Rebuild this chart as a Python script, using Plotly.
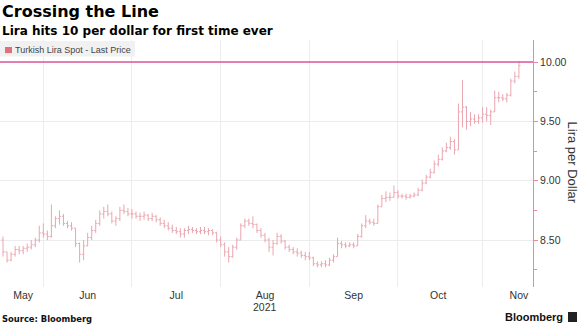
import pandas as pd
import plotly.graph_objects as go

# Daily USD/TRY bars, one per weekday from 18 May to 12 Nov 2021
dates = pd.bdate_range("2021-05-18", "2021-11-12")

open_px = [
    8.50, 8.40, 8.33, 8.38, 8.42, 8.41, 8.43, 8.44, 8.46, 8.50,
    8.56, 8.55, 8.53, 8.62, 8.68, 8.70, 8.64, 8.62, 8.60, 8.47,
    8.38, 8.45, 8.52, 8.58, 8.64, 8.72, 8.74, 8.72, 8.66, 8.68,
    8.75, 8.74, 8.72, 8.72, 8.70, 8.70, 8.71, 8.68, 8.70, 8.67,
    8.64, 8.62, 8.60, 8.58, 8.57, 8.55, 8.58, 8.59, 8.58, 8.57,
    8.58, 8.57, 8.58, 8.56, 8.50, 8.46, 8.40, 8.36, 8.44, 8.50,
    8.62, 8.66, 8.64, 8.63, 8.58, 8.54, 8.50, 8.44, 8.47, 8.53,
    8.49, 8.44, 8.42, 8.40, 8.39, 8.37, 8.36, 8.35, 8.30, 8.29,
    8.30, 8.29, 8.33, 8.36, 8.47, 8.46, 8.45, 8.46, 8.45, 8.53,
    8.62, 8.66, 8.65, 8.64, 8.78, 8.85, 8.86, 8.86, 8.90, 8.87,
    8.87, 8.86, 8.87, 8.88, 8.92, 8.98, 9.03, 9.07, 9.14, 9.18,
    9.25, 9.28, 9.33, 9.26, 9.58, 9.62, 9.50, 9.52, 9.50, 9.53,
    9.56, 9.55, 9.58, 9.70, 9.70, 9.69, 9.72, 9.84, 9.88,
]
high_px = [
    8.53, 8.40, 8.40, 8.45, 8.45, 8.45, 8.47, 8.50, 8.52, 8.62,
    8.64, 8.58, 8.80, 8.70, 8.75, 8.72, 8.66, 8.65, 8.60, 8.48,
    8.50, 8.56, 8.62, 8.67, 8.75, 8.78, 8.80, 8.74, 8.70, 8.78,
    8.80, 8.77, 8.76, 8.74, 8.73, 8.74, 8.72, 8.73, 8.71, 8.69,
    8.67, 8.65, 8.63, 8.61, 8.60, 8.60, 8.62, 8.61, 8.60, 8.61,
    8.61, 8.60, 8.59, 8.57, 8.53, 8.48, 8.44, 8.46, 8.52, 8.64,
    8.68, 8.68, 8.70, 8.64, 8.60, 8.56, 8.52, 8.50, 8.56, 8.55,
    8.50, 8.46, 8.44, 8.43, 8.41, 8.40, 8.40, 8.36, 8.32, 8.32,
    8.33, 8.35, 8.38, 8.52, 8.49, 8.48, 8.48, 8.48, 8.55, 8.64,
    8.71, 8.68, 8.68, 8.80, 8.88, 8.91, 8.90, 8.96, 8.92, 8.89,
    8.89, 8.89, 8.90, 8.94, 9.01, 9.05, 9.10, 9.17, 9.22, 9.28,
    9.32, 9.37, 9.35, 9.65, 9.85, 9.63, 9.58, 9.56, 9.56, 9.62,
    9.62, 9.60, 9.76, 9.75, 9.73, 9.74, 9.86, 9.92, 10.01,
]
low_px = [
    8.36, 8.31, 8.32, 8.36, 8.38, 8.38, 8.40, 8.42, 8.44, 8.48,
    8.52, 8.50, 8.52, 8.60, 8.63, 8.62, 8.60, 8.58, 8.44, 8.31,
    8.33, 8.45, 8.50, 8.56, 8.62, 8.68, 8.70, 8.64, 8.62, 8.66,
    8.72, 8.70, 8.68, 8.68, 8.66, 8.67, 8.66, 8.66, 8.65, 8.62,
    8.60, 8.58, 8.56, 8.55, 8.52, 8.52, 8.55, 8.56, 8.55, 8.55,
    8.55, 8.54, 8.54, 8.48, 8.44, 8.36, 8.31, 8.35, 8.42, 8.50,
    8.60, 8.62, 8.60, 8.56, 8.52, 8.48, 8.40, 8.37, 8.46, 8.47,
    8.42, 8.40, 8.38, 8.36, 8.35, 8.33, 8.33, 8.28, 8.27, 8.27,
    8.27, 8.28, 8.31, 8.36, 8.43, 8.43, 8.44, 8.43, 8.45, 8.52,
    8.60, 8.63, 8.62, 8.64, 8.78, 8.82, 8.83, 8.86, 8.85, 8.85,
    8.84, 8.85, 8.86, 8.87, 8.91, 8.97, 9.02, 9.06, 9.12, 9.17,
    9.24, 9.26, 9.22, 9.26, 9.45, 9.43, 9.46, 9.48, 9.48, 9.49,
    9.50, 9.47, 9.58, 9.66, 9.67, 9.66, 9.71, 9.82, 9.86,
]
close_px = [
    8.40, 8.33, 8.38, 8.42, 8.41, 8.43, 8.44, 8.46, 8.50, 8.56,
    8.55, 8.53, 8.62, 8.68, 8.70, 8.64, 8.62, 8.60, 8.47, 8.38,
    8.45, 8.52, 8.58, 8.64, 8.72, 8.74, 8.72, 8.66, 8.68, 8.75,
    8.74, 8.72, 8.72, 8.70, 8.70, 8.71, 8.68, 8.70, 8.67, 8.64,
    8.62, 8.60, 8.58, 8.57, 8.55, 8.58, 8.59, 8.58, 8.57, 8.58,
    8.57, 8.58, 8.56, 8.50, 8.46, 8.40, 8.36, 8.44, 8.50, 8.62,
    8.66, 8.64, 8.63, 8.58, 8.54, 8.50, 8.44, 8.47, 8.53, 8.49,
    8.44, 8.42, 8.40, 8.39, 8.37, 8.36, 8.35, 8.30, 8.29, 8.30,
    8.29, 8.33, 8.36, 8.47, 8.46, 8.45, 8.46, 8.45, 8.53, 8.62,
    8.66, 8.65, 8.64, 8.78, 8.85, 8.86, 8.86, 8.90, 8.87, 8.87,
    8.86, 8.87, 8.88, 8.92, 8.98, 9.03, 9.07, 9.14, 9.18, 9.25,
    9.28, 9.33, 9.26, 9.58, 9.62, 9.50, 9.52, 9.50, 9.53, 9.56,
    9.55, 9.58, 9.70, 9.70, 9.69, 9.72, 9.84, 9.88, 9.97,
]

threshold = 10.0

# Month boundaries (gridlines) and mid-month label positions
month_starts = ["2021-06-01", "2021-07-01", "2021-08-02", "2021-09-01",
                "2021-10-01", "2021-11-01"]
month_label_dates = ["2021-05-25", "2021-06-16", "2021-07-16", "2021-08-17",
                     "2021-09-16", "2021-10-15", "2021-11-12"]
month_labels = ["May", "Jun", "Jul", "Aug", "Sep", "Oct", "Nov"]
year_label_date = "2021-08-17"
year_label = "2021"

BAR = "#eaa6b0"
PINK = "#e0579a"
AXIS = "#e58aaa"
GRID = "#ececec"
TXT = "#333333"
SANS = "Liberation Sans, Arial, sans-serif"
BOLD = "DejaVu Sans, Verdana, sans-serif"

fig = go.Figure()
fig.add_trace(go.Ohlc(
    x=dates, open=open_px, high=high_px, low=low_px, close=close_px,
    increasing=dict(line=dict(color=BAR, width=1)),
    decreasing=dict(line=dict(color=BAR, width=1)),
    tickwidth=0.4, showlegend=False, hoverinfo="skip",
))

fig.add_shape(type="line", xref="paper", x0=0, x1=1, yref="y",
              y0=threshold, y1=threshold, line=dict(color=PINK, width=1.5))

# Legend box
fig.add_shape(type="rect", xref="paper", yref="paper", x0=0, x1=0.2533,
              y0=0.933, y1=0.996, fillcolor="#f1f1f1", line=dict(width=0),
              layer="above")
fig.add_shape(type="rect", xref="paper", yref="paper", x0=0.0094, x1=0.0225,
              y0=0.947, y1=0.9717, fillcolor="#e0707c", line=dict(width=0),
              layer="above")
# Logo mark
fig.add_shape(type="rect", xref="paper", yref="paper", x0=1.0657, x1=1.0826,
              y0=-0.1417, y1=-0.1012, fillcolor="#222222", line=dict(width=0))

annotations = [
    dict(text="<b>Crossing the Line</b>", x=0, y=1.117, xanchor="left",
         yanchor="middle", font=dict(family=BOLD, size=16, color="#000")),
    dict(text="<b>Lira hits 10 per dollar for first time ever</b>", x=0, y=1.035,
         xanchor="left", yanchor="middle",
         font=dict(family=BOLD, size=12, color="#000")),
    dict(text="Turkish Lira Spot - Last Price", x=0.0244, y=0.9595,
         xanchor="left", yanchor="middle", font=dict(family=SANS, size=9, color="#444")),
    dict(text="<b>Source: Bloomberg</b>", x=0, y=-0.1296, xanchor="left",
         yanchor="middle", font=dict(family=BOLD, size=8.4, color="#111")),
    dict(text="<b>Bloomberg</b>", x=1.06, y=-0.123, xanchor="right",
         yanchor="middle", font=dict(family=SANS, size=11, color="#111")),
    dict(text="Lira per Dollar", x=1.075, y=0.504, textangle=90,
         xanchor="center", yanchor="middle", font=dict(family=SANS, size=13, color=TXT)),
]
for a in annotations:
    a.update(xref="paper", yref="paper", showarrow=False)
annotations.append(dict(text=year_label, x=year_label_date, xref="x", y=-0.081,
                        yref="paper", showarrow=False, yanchor="middle",
                        font=dict(family=SANS, size=10.5, color=TXT)))

fig.update_layout(
    width=580, height=326,
    margin=dict(l=0, r=47, t=40, b=39),
    paper_bgcolor="white", plot_bgcolor="white",
    showlegend=False,
    annotations=annotations,
    xaxis=dict(
        type="date",
        range=["2021-05-17 06:00", "2021-11-17 12:00"],
        rangebreaks=[dict(bounds=["sat", "mon"])],
        rangeslider=dict(visible=False),
        tickmode="array", tickvals=month_label_dates, ticktext=month_labels,
        showgrid=False, ticks="", showline=False, zeroline=False,
        tickfont=dict(family=SANS, size=10.5, color=TXT),
        minor=dict(tickmode="array", tickvals=month_starts, showgrid=True,
                   gridcolor=GRID, gridwidth=1, ticks=""),
    ),
    yaxis=dict(
        side="right", range=[8.104, 10.186],
        tick0=0, dtick=0.5, tickformat=".2f",
        showgrid=True, gridcolor=GRID, gridwidth=1, zeroline=False,
        ticks="outside", ticklen=4, tickcolor=AXIS,
        showline=True, linecolor=AXIS, linewidth=1,
        tickfont=dict(family=SANS, size=10.5, color=TXT),
        minor=dict(dtick=0.25, ticks="outside", ticklen=3, tickcolor=AXIS,
                   showgrid=False),
    ),
)

fig.write_html("out.html", config={"displayModeBar": False})
